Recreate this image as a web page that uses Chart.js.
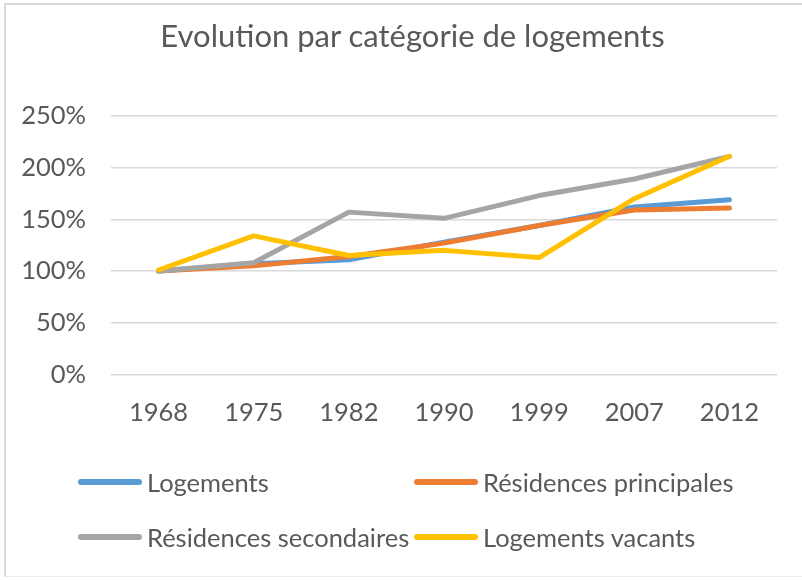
<!DOCTYPE html>
<html>
<head>
<meta charset="utf-8">
<script src="https://cdn.jsdelivr.net/npm/chart.js@4/dist/chart.umd.min.js"></script>
<style>
  html, body { margin: 0; padding: 0; background: #fff; }
  #wrap { position: relative; width: 802px; height: 580px; overflow: hidden; }
  #frame { position: absolute; left: 4px; top: 3px; width: 820px; height: 574px;
           border-left: 2px solid #d9d9d9; border-top: 2px solid #d9d9d9; border-bottom: 1px solid #ececec; box-sizing: border-box; }
  canvas { position: absolute; left: 0; top: 0; }
  #title { position: absolute; left: 312.5px; width: 200px; top: 15px; display: flex; justify-content: center;
           font-family: Lato, 'Open Sans', sans-serif; font-size: 31px; line-height: 40px; color: #595959; white-space: nowrap; }
  #legend { position: absolute; left: 0; top: 0; width: 802px; height: 580px; pointer-events: none; }
  .item { position: absolute; display: flex; align-items: center; height: 40px; }
  .swatch { width: 64px; height: 6px; border-radius: 3px; margin-right: 5px; }
  .lbl { font-family: Lato, 'Open Sans', sans-serif; font-size: 25.5px; color: #595959; white-space: nowrap; }
</style>
</head>
<body>
<div id="wrap">
  <div id="frame"></div>
  <canvas id="c" width="802" height="580"></canvas>
  <div id="title"></div>
  <div id="legend"></div>
</div>
<script>
const chartTitle = 'Evolution par catégorie de logements';
const years = ['1968', '1975', '1982', '1990', '1999', '2007', '2012'];
const logements = [100, 107, 111, 128, 144, 162, 169];
const residencesPrincipales = [100, 105, 114, 127, 144, 159, 161];
const residencesSecondaires = [100, 108, 157, 151, 173, 189, 211];
const logementsVacants = [101, 134, 115, 120, 113, 170, 211];
const seriesNames = ['Logements', 'Résidences principales', 'Résidences secondaires', 'Logements vacants'];
const seriesColors = ['#5B9BD5', '#ED7D31', '#A5A5A5', '#FFC000'];
const yTicks = [0, 50, 100, 150, 200, 250];

const FONT = "Lato, 'Open Sans', sans-serif";
const TEXT = '#595959';

document.getElementById('title').textContent = chartTitle;

const seriesValues = [logements, residencesPrincipales, residencesSecondaires, logementsVacants];
const datasets = seriesValues.map((vals, i) => ({
  label: seriesNames[i],
  data: vals,
  borderColor: seriesColors[i],
  backgroundColor: seriesColors[i],
  borderWidth: 5,
  pointRadius: 0,
  tension: 0,
  borderCapStyle: 'round',
  borderJoinStyle: 'round',
  order: seriesValues.length - 1 - i
}));

new Chart(document.getElementById('c'), {
  type: 'line',
  data: { labels: years, datasets },
  options: {
    responsive: false,
    animation: false,
    layout: { padding: { left: 0, right: 25, top: 116, bottom: 129 } },
    plugins: {
      legend: { display: false },
      tooltip: { enabled: false },
      title: { display: false }
    },
    scales: {
      x: {
        offset: true,
        grid: { display: false, drawTicks: false },
        border: { display: false },
        ticks: { color: TEXT, font: { family: FONT, size: 25.5 }, padding: 23, maxRotation: 0 }
      },
      y: {
        min: 0, max: 250,
        afterBuildTicks: s => { s.ticks = yTicks.map(v => ({ value: v })); },
        afterFit: s => { s.width = 111; },
        grid: { color: '#d9d9d9', lineWidth: 1.5, drawTicks: false },
        border: { display: false },
        ticks: { color: TEXT, font: { family: FONT, size: 25.5 }, padding: 25, callback: v => v + '%' }
      }
    }
  }
});

// HTML legend built from the series names and colours
const legendPos = [
  { x: 78, y: 482 }, { x: 414, y: 482 },
  { x: 78, y: 537 }, { x: 414, y: 537 }
];
const legend = document.getElementById('legend');
seriesNames.forEach((name, i) => {
  const it = document.createElement('div');
  it.className = 'item';
  it.style.left = legendPos[i].x + 'px';
  it.style.top = (legendPos[i].y - 20) + 'px';
  const sw = document.createElement('span');
  sw.className = 'swatch';
  sw.style.background = seriesColors[i];
  const lb = document.createElement('span');
  lb.className = 'lbl';
  lb.textContent = name;
  it.appendChild(sw); it.appendChild(lb);
  legend.appendChild(it);
});
</script>
</body>
</html>
